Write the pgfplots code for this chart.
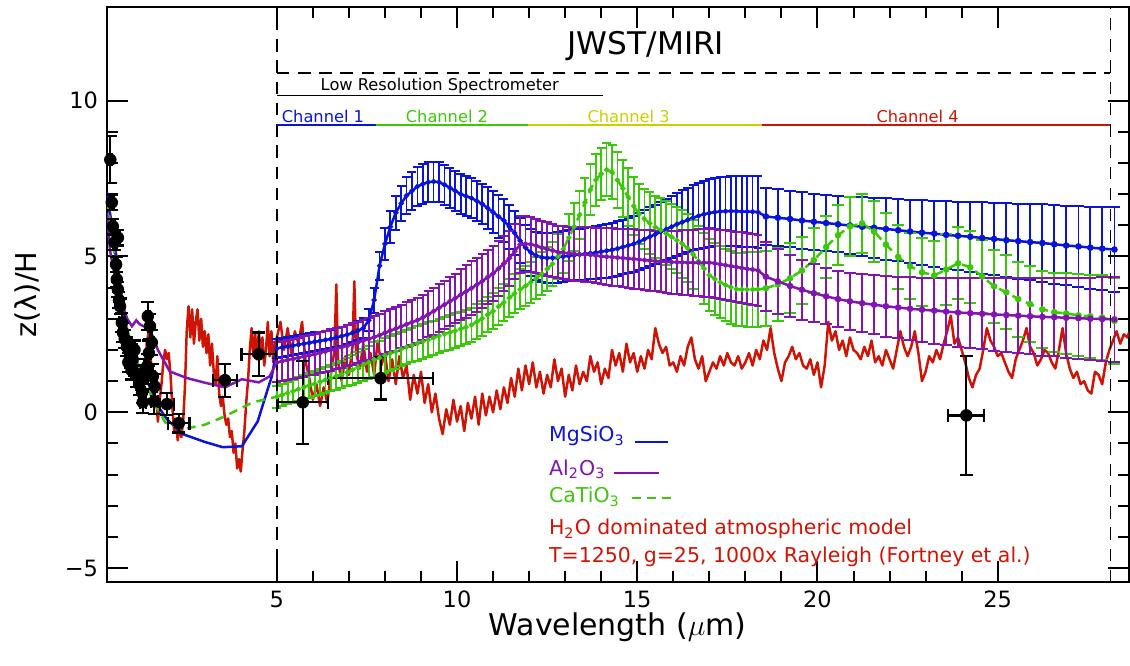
\documentclass[border=0pt]{standalone}
\usepackage{pgfplots}
\pgfplotsset{compat=1.18}
\usepackage{pgfplotstable}
\usepackage{fontspec}
\setmainfont{DejaVu Sans}

\definecolor{cblue}{RGB}{10,20,215}
\definecolor{cpurple}{RGB}{130,20,175}
\definecolor{cgreen}{RGB}{60,200,10}
\definecolor{cred}{RGB}{205,20,5}
\definecolor{cyel}{RGB}{205,205,0}

\newcommand{\legfont}{\fontsize{8.2}{9.5}\selectfont}
\newcommand{\smallfont}{\fontsize{6.5}{7.5}\selectfont}

% channels 1-3: x, MgSiO3 (b), Al2O3 (p), CaTiO3 (g) with errors
\pgfplotstableread{
x b be p pe g ge
5.00 2.05 0.30 1.60 0.64 0.50 0.35
5.15 2.08 0.30 1.64 0.64 0.56 0.36
5.30 2.11 0.30 1.68 0.64 0.62 0.36
5.45 2.14 0.30 1.71 0.64 0.68 0.37
5.60 2.17 0.30 1.75 0.64 0.74 0.38
5.75 2.20 0.30 1.79 0.65 0.80 0.39
5.90 2.23 0.30 1.83 0.65 0.86 0.39
6.05 2.26 0.30 1.86 0.65 0.92 0.40
6.20 2.29 0.30 1.91 0.65 0.98 0.41
6.35 2.32 0.30 1.95 0.65 1.04 0.42
6.50 2.35 0.30 2.00 0.66 1.10 0.43
6.65 2.40 0.30 2.04 0.66 1.16 0.43
6.80 2.44 0.30 2.09 0.66 1.22 0.44
6.95 2.49 0.30 2.13 0.66 1.28 0.45
7.10 2.55 0.30 2.19 0.66 1.36 0.47
7.25 2.62 0.31 2.24 0.67 1.44 0.49
7.40 2.70 0.32 2.30 0.67 1.52 0.51
7.55 2.95 0.35 2.35 0.67 1.60 0.53
7.70 3.60 0.40 2.41 0.68 1.69 0.55
7.85 4.70 0.45 2.47 0.68 1.75 0.55
8.00 5.40 0.50 2.55 0.69 1.82 0.55
8.15 5.95 0.52 2.62 0.69 1.89 0.55
8.30 6.40 0.55 2.68 0.70 1.95 0.55
8.45 6.70 0.57 2.75 0.70 2.03 0.55
8.60 6.95 0.60 2.82 0.71 2.09 0.55
8.75 7.10 0.61 2.89 0.72 2.15 0.55
8.90 7.24 0.62 2.95 0.72 2.21 0.55
9.05 7.32 0.63 3.04 0.73 2.27 0.55
9.20 7.38 0.64 3.14 0.74 2.33 0.55
9.35 7.40 0.64 3.24 0.75 2.39 0.55
9.50 7.38 0.64 3.35 0.76 2.45 0.55
9.65 7.30 0.64 3.45 0.77 2.51 0.55
9.80 7.20 0.64 3.56 0.78 2.56 0.55
9.95 7.10 0.64 3.66 0.79 2.62 0.55
10.10 7.00 0.64 3.77 0.81 2.67 0.55
10.25 6.93 0.64 3.87 0.84 2.73 0.55
10.40 6.87 0.64 3.98 0.86 2.80 0.55
10.55 6.78 0.65 4.09 0.86 2.90 0.56
10.70 6.68 0.65 4.21 0.87 3.01 0.56
10.85 6.55 0.66 4.33 0.87 3.13 0.57
11.00 6.42 0.67 4.45 0.87 3.25 0.58
11.15 6.28 0.68 4.61 0.88 3.39 0.59
11.30 6.15 0.69 4.77 0.88 3.53 0.60
11.45 5.95 0.70 4.94 0.89 3.67 0.61
11.60 5.75 0.71 5.16 0.89 3.81 0.62
11.75 5.50 0.72 5.38 0.90 3.94 0.64
11.90 5.28 0.74 5.40 0.89 4.05 0.65
12.05 5.12 0.75 5.39 0.88 4.17 0.66
12.20 5.02 0.77 5.34 0.87 4.30 0.67
12.35 4.97 0.78 5.28 0.86 4.45 0.69
12.50 4.95 0.80 5.23 0.86 4.60 0.70
12.65 4.95 0.80 5.19 0.85 4.76 0.71
12.80 4.97 0.81 5.14 0.84 5.00 0.73
12.95 5.00 0.82 5.12 0.85 5.23 0.75
13.10 5.02 0.82 5.10 0.85 5.60 0.76
13.25 5.04 0.83 5.08 0.86 5.95 0.77
13.40 5.06 0.83 5.07 0.86 6.33 0.78
13.55 5.08 0.84 5.06 0.87 6.73 0.80
13.70 5.10 0.84 5.05 0.88 7.14 0.81
13.85 5.12 0.85 5.03 0.89 7.45 0.82
14.00 5.15 0.85 5.00 0.90 7.65 0.83
14.15 5.18 0.86 4.99 0.91 7.78 0.85
14.30 5.21 0.87 4.98 0.92 7.70 0.87
14.45 5.25 0.88 4.96 0.92 7.45 0.89
14.60 5.30 0.88 4.95 0.93 7.18 0.91
14.75 5.35 0.89 4.93 0.94 6.90 0.92
14.90 5.40 0.90 4.92 0.95 6.62 0.94
15.05 5.47 0.92 4.90 0.95 6.36 0.96
15.20 5.55 0.93 4.88 0.96 6.20 0.97
15.35 5.63 0.94 4.87 0.97 6.06 0.99
15.50 5.71 0.95 4.85 0.97 5.94 1.00
15.65 5.79 0.96 4.84 0.98 5.85 1.02
15.80 5.87 0.98 4.83 1.00 5.74 1.03
15.95 5.95 1.00 4.82 1.01 5.63 1.05
16.10 6.03 1.01 4.81 1.02 5.52 1.06
16.25 6.10 1.02 4.81 1.04 5.40 1.08
16.40 6.17 1.03 4.80 1.05 5.26 1.09
16.55 6.24 1.04 4.80 1.06 5.07 1.11
16.70 6.30 1.06 4.80 1.08 4.85 1.12
16.85 6.35 1.07 4.80 1.09 4.62 1.14
17.00 6.39 1.08 4.80 1.10 4.40 1.15
17.15 6.42 1.09 4.78 1.10 4.28 1.15
17.30 6.44 1.10 4.75 1.11 4.17 1.16
17.45 6.45 1.11 4.72 1.12 4.08 1.16
17.60 6.45 1.12 4.69 1.12 4.01 1.17
17.75 6.45 1.13 4.66 1.13 3.95 1.17
17.90 6.44 1.13 4.63 1.14 3.94 1.18
18.05 6.44 1.14 4.60 1.14 3.94 1.19
18.20 6.43 1.14 4.58 1.15 3.94 1.19
18.35 6.42 1.15 4.55 1.15 3.94 1.20
}\chlow

% channel 4
\pgfplotstableread{
x b be p pe g ge
18.57 6.28 0.92 4.35 1.10 3.98 1.20
18.90 6.24 0.91 4.20 1.05 4.10 1.16
19.24 6.20 0.91 4.05 1.00 4.30 1.12
19.57 6.15 0.90 3.93 0.96 4.55 1.08
19.90 6.11 0.90 3.82 0.93 4.88 1.04
20.24 6.07 0.90 3.72 0.90 5.30 1.00
20.57 6.03 0.90 3.63 0.89 5.68 0.96
20.90 5.99 0.92 3.56 0.91 5.96 0.94
21.24 5.95 0.94 3.50 0.93 6.06 0.95
21.57 5.92 0.96 3.45 0.95 5.80 0.97
21.90 5.88 0.98 3.40 0.97 5.38 1.00
22.24 5.84 1.00 3.36 0.99 4.98 1.03
22.57 5.80 1.02 3.32 1.01 4.68 1.06
22.90 5.76 1.04 3.29 1.03 4.49 1.09
23.24 5.73 1.06 3.26 1.06 4.39 1.11
23.57 5.69 1.08 3.23 1.08 4.58 1.13
23.90 5.66 1.10 3.20 1.10 4.78 1.15
24.24 5.63 1.12 3.18 1.12 4.65 1.16
24.57 5.59 1.14 3.16 1.14 4.36 1.17
24.90 5.56 1.16 3.14 1.16 4.04 1.18
25.24 5.52 1.18 3.12 1.18 3.85 1.19
25.57 5.49 1.20 3.10 1.20 3.63 1.20
25.90 5.46 1.22 3.08 1.22 3.47 1.22
26.24 5.43 1.24 3.06 1.24 3.30 1.24
26.57 5.39 1.26 3.05 1.26 3.21 1.27
26.90 5.35 1.28 3.03 1.28 3.17 1.29
27.24 5.32 1.30 3.02 1.30 3.11 1.31
27.57 5.28 1.32 3.00 1.32 3.08 1.33
27.90 5.25 1.34 2.99 1.35 3.04 1.35
28.24 5.22 1.36 2.98 1.37 2.93 1.38
}\chfour

% observed points
\pgfplotstableread{
x y ex ey
0.38 8.10 0.03 0.75
0.42 6.73 0.05 0.25
0.45 5.96 0.05 0.25
0.50 5.45 0.05 0.25
0.59 5.60 0.05 0.25
0.54 4.74 0.05 0.25
0.56 4.26 0.05 0.25
0.59 3.94 0.05 0.25
0.62 3.60 0.05 0.25
0.65 3.40 0.05 0.25
0.70 2.88 0.08 0.30
0.73 2.56 0.08 0.30
0.78 2.35 0.08 0.30
0.84 2.10 0.08 0.30
0.88 1.60 0.08 0.30
0.92 1.92 0.08 0.30
0.97 1.35 0.08 0.30
1.00 1.70 0.08 0.30
1.05 2.00 0.08 0.30
1.12 1.15 0.08 0.35
1.18 0.90 0.08 0.35
1.26 0.64 0.08 0.35
1.28 0.32 0.08 0.35
1.33 1.30 0.05 0.40
1.40 1.47 0.05 0.40
1.42 3.08 0.05 0.45
1.45 1.90 0.05 0.40
1.48 2.76 0.05 0.40
1.53 2.24 0.05 0.40
1.56 1.15 0.05 0.40
1.61 0.83 0.05 0.40
1.60 0.35 0.10 0.40
1.95 0.26 0.20 0.35
2.28 -0.35 0.30 0.30
3.56 1.03 0.33 0.53
4.50 1.86 0.48 0.70
5.72 0.32 0.70 1.33
7.88 1.09 1.46 0.68
24.13 -0.10 0.50 1.90
}\obs

\begin{document}
\begin{tikzpicture}
\begin{axis}[
  name=ax,
  scale only axis,
  width=409.2pt, height=230.4pt,
  xmin=0.284, xmax=28.63, ymin=-5.45, ymax=13.0,
  axis line style={line width=0.8pt},
  xtick={5,10,15,20,25}, xticklabels={5,10,15,20,25},
  ytick={-5,0,5,10}, yticklabels={−5,0,5,10},
  minor x tick num=4, minor y tick num=4,
  tick align=inside,
  major tick length=8.4pt, minor tick length=4.3pt,
  tick style={line width=0.8pt, black},
  tick label style={font=\fontsize{9}{10}\selectfont},
  xlabel={Wavelength ($\mu$m)},
  ylabel={z(λ)/H},
  every axis x label/.style={at={(axis description cs:0.5,0)}, anchor=center, yshift=-18pt, font=\fontsize{12}{14}\selectfont},
  every axis y label/.style={at={(axis description cs:0,0.5)}, xshift=-31.6pt, anchor=center, rotate=90, font=\fontsize{11.5}{13}\selectfont},
]

% H2O model spectrum
\addplot[cred, line width=1pt, line join=round] coordinates {
(0.30,6.8) (0.40,6.2) (0.50,5.4) (0.60,4.6) (0.70,3.6) (0.80,2.9) (0.90,2.4) (1.00,2.1)
(1.10,1.6) (1.20,1.2) (1.30,0.9) (1.35,1.6) (1.40,2.3) (1.45,2.6) (1.50,1.8) (1.55,0.9)
(1.60,0.2) (1.65,0.5) (1.70,-0.3) (1.75,0.4) (1.80,0.9) (1.85,1.6) (1.90,2.0) (1.95,1.7)
(2.00,1.9) (2.05,1.2) (2.10,0.2) (2.15,-0.6) (2.20,-0.2) (2.25,-0.9) (2.30,-0.4) (2.35,-0.8)
(2.40,-0.3) (2.45,0.8) (2.50,2.6) (2.55,3.4) (2.60,2.4) (2.65,3.3) (2.70,2.2) (2.75,2.9)
(2.80,3.3) (2.85,2.3) (2.90,3.0) (2.95,2.1) (3.00,2.6) (3.05,1.9) (3.10,2.5) (3.15,1.5)
(3.20,2.2) (3.25,1.3) (3.30,0.9) (3.35,1.8) (3.40,0.6) (3.45,0.2) (3.50,0.5) (3.55,-0.1)
(3.60,-0.4) (3.65,-0.2) (3.70,-0.8) (3.75,-0.6) (3.80,-1.3) (3.85,-1.0) (3.90,-1.8) (3.95,-1.5)
(4.00,-1.9) (4.05,-1.2) (4.10,-0.6) (4.15,0.3) (4.20,1.0) (4.25,2.0) (4.30,2.7) (4.35,1.8)
(4.40,2.5) (4.45,1.7) (4.50,2.6) (4.55,1.9) (4.60,2.4) (4.65,1.5) (4.70,2.0) (4.75,2.9)
(4.80,1.8) (4.85,2.6) (4.90,1.6) (4.95,2.2)
(5.0,2.4) (5.1,2.9) (5.2,2.0) (5.3,2.7) (5.4,1.9) (5.5,2.6) (5.6,2.2) (5.7,2.9) (5.8,1.6)
(5.9,1.1) (6.0,0.4) (6.1,0.9) (6.2,0.2) (6.3,0.8) (6.4,0.3) (6.5,1.2) (6.6,2.0) (6.65,4.1)
(6.7,1.6) (6.8,1.0) (6.9,1.8) (7.0,1.2) (7.1,2.1) (7.15,4.2) (7.2,1.9) (7.3,1.4) (7.4,2.2)
(7.5,1.3) (7.6,1.9) (7.7,1.2) (7.8,2.3) (7.9,1.5) (8.0,1.9) (8.1,1.0) (8.2,1.7) (8.3,0.9)
(8.4,1.8) (8.5,1.1) (8.6,1.5) (8.7,0.4) (8.8,1.2) (8.9,0.6) (9.0,1.3) (9.1,0.3) (9.2,0.9)
(9.3,0.0) (9.4,0.6) (9.5,-0.2) (9.6,-0.7) (9.7,0.1) (9.8,-0.4) (9.9,0.4) (10.0,-0.3)
(10.1,0.2) (10.2,-0.6) (10.3,0.3) (10.4,-0.2) (10.5,0.5) (10.6,-0.4) (10.7,0.6) (10.8,-0.1)
(10.9,0.5) (11.0,0.0) (11.1,0.7) (11.2,0.1) (11.3,0.8) (11.4,0.3) (11.5,1.1) (11.6,0.5)
(11.7,1.4) (11.8,0.7) (11.9,1.5) (12.0,0.9) (12.1,1.6) (12.2,0.8) (12.3,1.3) (12.4,0.6)
(12.5,1.2) (12.6,0.8) (12.7,1.7) (12.8,1.0) (12.9,1.4) (13.0,0.5) (13.1,1.2) (13.2,0.7)
(13.3,1.5) (13.4,0.9) (13.5,1.3) (13.6,1.0) (13.7,1.8) (13.8,1.3) (13.9,1.6) (14.0,0.9)
(14.1,1.4) (14.2,1.1) (14.3,2.0) (14.4,1.5) (14.5,1.9) (14.6,1.3) (14.7,2.2) (14.8,1.6)
(14.9,1.9) (15.0,1.3) (15.1,1.8) (15.2,1.4) (15.3,2.0) (15.4,1.7) (15.5,2.7) (15.6,2.2)
(15.7,1.9) (15.8,2.1) (15.9,1.5) (16.0,1.6) (16.1,1.3) (16.2,1.8) (16.3,1.5) (16.4,2.1)
(16.5,2.4) (16.6,1.7) (16.7,1.4) (16.8,1.8) (16.9,1.0) (17.0,1.3) (17.1,1.6) (17.2,1.4)
(17.3,1.8) (17.4,1.5) (17.5,1.9) (17.6,1.6) (17.7,1.5) (17.8,1.8) (17.9,1.4) (18.0,1.6)
(18.1,1.9) (18.2,1.5) (18.3,2.0) (18.4,1.7) (18.5,2.3) (18.6,2.0) (18.7,2.7) (18.8,1.9)
(18.9,1.4) (19.0,1.0) (19.1,1.6) (19.2,1.8) (19.3,2.1) (19.4,1.7) (19.5,1.9) (19.6,1.5)
(19.7,1.4) (19.8,1.7) (19.9,1.2) (20.0,1.6) (20.1,0.8) (20.2,1.5) (20.3,2.9) (20.4,2.3)
(20.5,2.6) (20.6,2.0) (20.7,2.3) (20.8,1.8) (20.9,2.4) (21.0,2.0) (21.1,1.9) (21.2,1.7)
(21.3,2.1) (21.4,1.8) (21.5,2.3) (21.6,1.6) (21.7,1.8) (21.8,1.5) (21.9,2.0) (22.0,1.7)
(22.1,1.4) (22.2,2.0) (22.3,2.6) (22.4,2.1) (22.5,1.8) (22.6,2.1) (22.7,2.6) (22.8,1.9)
(22.9,1.0) (23.0,1.3) (23.1,1.8) (23.2,1.6) (23.3,2.0) (23.4,1.7) (23.5,2.2) (23.6,2.6)
(23.7,3.1) (23.8,2.2) (23.9,2.4) (24.0,2.0) (24.1,1.6) (24.2,1.1) (24.3,0.8) (24.4,1.2)
(24.5,1.4) (24.6,2.0) (24.7,2.7) (24.8,2.3) (24.9,2.1) (25.0,1.8) (25.1,1.9) (25.2,1.6)
(25.3,1.3) (25.4,1.1) (25.5,1.7) (25.6,2.0) (25.7,2.3) (25.8,2.7) (25.9,2.1) (26.0,1.9)
(26.1,1.5) (26.2,1.7) (26.3,2.0) (26.4,1.9) (26.5,1.6) (26.6,1.4) (26.7,2.0) (26.8,2.7)
(26.9,1.9) (27.0,1.4) (27.1,1.1) (27.2,1.3) (27.3,0.9) (27.4,1.0) (27.5,0.7) (27.6,0.6)
(27.7,1.3) (27.8,1.2) (27.9,0.9) (28.0,1.6) (28.1,2.0) (28.2,2.3) (28.3,2.6) (28.4,2.2)
(28.5,2.5) (28.6,2.4) (28.66,2.6)
};

% near-IR parts of the cloud models
\addplot[cblue, line width=1pt] coordinates {
(0.29,7.05) (0.40,6.10) (0.50,5.30) (0.60,4.40) (0.70,3.60) (0.84,2.34) (1.00,1.80)
(1.20,1.30) (1.48,0.83) (1.70,0.20) (1.95,-0.22) (2.39,-0.70) (3.00,-0.95) (3.50,-1.12)
(4.03,-1.09) (4.47,-0.29) (4.72,0.64) (4.86,1.15) (5.00,2.05)
};
\addplot[cgreen, line width=1pt, dash pattern=on 3.5pt off 2.5pt] coordinates {
(0.29,6.80) (0.50,5.00) (0.70,3.40) (1.00,2.00) (1.30,1.10) (1.60,0.30) (1.90,-0.32)
(2.39,-0.54) (3.00,-0.40) (3.50,-0.16) (4.33,0.32) (5.00,0.50)
};
\addplot[cpurple, line width=1pt] coordinates {
(0.29,6.40) (0.37,5.20) (0.50,4.40) (0.70,3.50) (0.85,3.00) (0.98,2.76) (1.10,2.95)
(1.20,2.82) (1.48,2.66) (1.70,2.00) (2.03,1.31) (2.50,1.10) (3.00,0.95) (3.56,0.80)
(4.03,1.06) (4.50,0.96) (4.80,1.15) (5.00,1.60)
};

% MIRI channels 1-3
\addplot[cblue, line width=1pt, mark=*, mark size=0.5pt,
  error bars/.cd, y dir=both, y explicit,
  error bar style={line width=0.7pt}, error mark options={rotate=90, line width=0.8pt, mark size=1.8pt}]
  table[x=x, y=b, y error=be] {\chlow};
\addplot[cgreen, line width=1pt, dash pattern=on 3.5pt off 2.5pt, mark=*, mark size=0.5pt, mark options={solid},
  error bars/.cd, y dir=both, y explicit,
  error bar style={line width=0.7pt, solid}, error mark options={rotate=90, line width=0.8pt, mark size=1.8pt, solid}]
  table[x=x, y=g, y error=ge] {\chlow};
\addplot[cpurple, line width=1pt, mark=*, mark size=0.5pt,
  error bars/.cd, y dir=both, y explicit,
  error bar style={line width=0.7pt}, error mark options={rotate=90, line width=0.8pt, mark size=1.8pt}]
  table[x=x, y=p, y error=pe] {\chlow};

% MIRI channel 4
\addplot[cblue, line width=1pt] coordinates {(18.35,6.42) (18.57,6.28)};
\addplot[cgreen, line width=1pt] coordinates {(18.35,3.94) (18.57,3.98)};
\addplot[cpurple, line width=1pt] coordinates {(18.35,4.55) (18.57,4.35)};
\addplot[cblue, line width=1pt, mark=*, mark size=0.8pt,
  error bars/.cd, y dir=both, y explicit,
  error bar style={line width=0.7pt}, error mark options={rotate=90, line width=0.8pt, mark size=2.4pt}]
  table[x=x, y=b, y error=be] {\chfour};
\addplot[cgreen, line width=1pt, dash pattern=on 3.5pt off 2.5pt, mark=*, mark size=0.8pt, mark options={solid},
  error bars/.cd, y dir=both, y explicit,
  error bar style={line width=0.7pt, solid}, error mark options={rotate=90, line width=0.8pt, mark size=2.4pt, solid}]
  table[x=x, y=g, y error=ge] {\chfour};
\addplot[cpurple, line width=1pt, mark=*, mark size=0.8pt,
  error bars/.cd, y dir=both, y explicit,
  error bar style={line width=0.7pt}, error mark options={rotate=90, line width=0.8pt, mark size=2.4pt}]
  table[x=x, y=p, y error=pe] {\chfour};

% observations
\addplot[only marks, black, mark=*, mark size=2.3pt,
  error bars/.cd, x dir=both, x explicit, y dir=both, y explicit,
  error bar style={line width=0.9pt}, error mark options={rotate=90, line width=0.9pt, mark size=2.6pt}]
  table[x=x, y=y, x error=ex, y error=ey] {\obs};

% instrument annotations
\draw[black, line width=0.6pt, dash pattern=on 5pt off 3.5pt] (axis cs:5,-5.45) -- (axis cs:5,13);
\draw[black, line width=0.6pt, dash pattern=on 5pt off 3.5pt] (axis cs:28.13,-5.45) -- (axis cs:28.13,13);
\draw[black, line width=0.6pt, dash pattern=on 5pt off 3.5pt] (axis cs:5,10.89) -- (axis cs:28.13,10.89);
\node[font=\fontsize{12.5}{14}\selectfont] at (axis cs:15.24,11.76) {JWST/MIRI};
\draw[black, line width=0.6pt] (axis cs:5,10.16) -- (axis cs:14.04,10.16);
\node[font=\smallfont] at (axis cs:9.52,10.45) {Low Resolution Spectrometer};
\draw[cblue, line width=0.8pt] (axis cs:5,9.21) -- (axis cs:7.75,9.21);
\draw[cgreen, line width=0.8pt] (axis cs:7.75,9.21) -- (axis cs:11.96,9.21);
\draw[cyel, line width=0.8pt] (axis cs:11.96,9.21) -- (axis cs:18.45,9.21);
\draw[cred, line width=0.8pt] (axis cs:18.45,9.21) -- (axis cs:28.13,9.21);
\node[font=\smallfont, text=cblue] at (axis cs:6.28,9.49) {Channel 1};
\node[font=\smallfont, text=cgreen] at (axis cs:9.72,9.49) {Channel 2};
\node[font=\smallfont, text=cyel] at (axis cs:14.76,9.49) {Channel 3};
\node[font=\smallfont, text=cred] at (axis cs:22.78,9.49) {Channel 4};

% legend
\node[anchor=west, inner sep=0pt, font=\legfont, text=cblue] at (axis cs:12.54,-0.77) {MgSiO\textsubscript{3}};
\draw[cblue, line width=0.8pt] (axis cs:14.95,-0.96) -- (axis cs:15.85,-0.96);
\node[anchor=west, inner sep=0pt, font=\legfont, text=cpurple] at (axis cs:12.54,-1.83) {Al\textsubscript{2}O\textsubscript{3}};
\draw[cpurple, line width=0.8pt] (axis cs:14.35,-1.96) -- (axis cs:15.60,-1.96);
\node[anchor=west, inner sep=0pt, font=\legfont, text=cgreen] at (axis cs:12.54,-2.72) {CaTiO\textsubscript{3}};
\draw[cgreen, line width=0.8pt, dash pattern=on 3.5pt off 2.5pt] (axis cs:14.85,-2.76) -- (axis cs:16.05,-2.76);
\node[anchor=west, inner sep=0pt, font=\legfont, text=cred] at (axis cs:12.54,-3.75) {H\textsubscript{2}O dominated atmospheric model};
\node[anchor=west, inner sep=0pt, font=\legfont, text=cred] at (axis cs:12.54,-4.65) {T=1250, g=25, 1000x Rayleigh (Fortney et al.)};
\end{axis}
\pgfresetboundingbox
\path[use as bounding box] ([xshift=-42.8pt,yshift=-33.2pt]ax.south west) rectangle ([xshift=0.6pt,yshift=2.8pt]ax.north east);
\end{tikzpicture}
\end{document}
